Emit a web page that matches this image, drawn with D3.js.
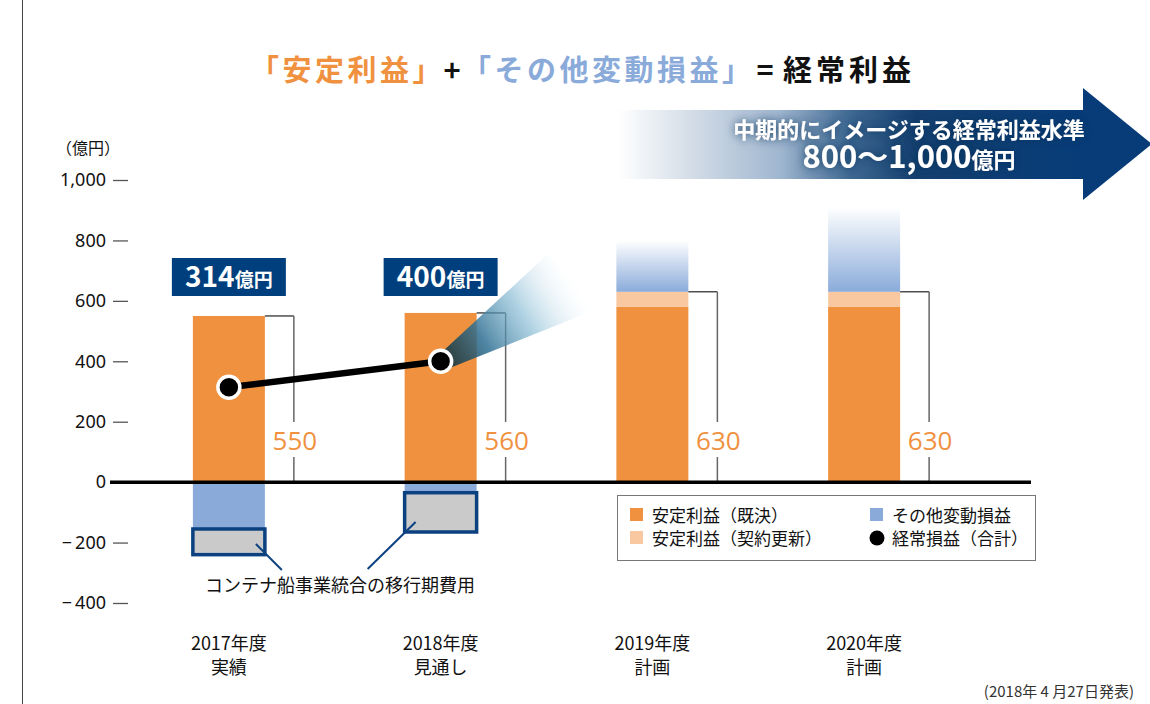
<!DOCTYPE html>
<html>
<head>
<meta charset="utf-8">
<script src="https://cdn.jsdelivr.net/npm/d3@7"></script>
<style>
  body { margin: 0; background: #fff; }
  svg { display: block; font-family: "Noto Sans CJK JP", "Noto Sans", sans-serif; }
</style>
</head>
<body>
<div id="chart"></div>
<script>
// data (億円)
const years = ['2017年度', '2018年度', '2019年度', '2020年度'];
const yearNotes = ['実績', '見通し', '計画', '計画'];
const stableDecided = [550, 560, 580, 580];
const stableRenewal = [0, 0, 50, 50];
const otherVariable = [-155, -35, 170, 280];
const transitionCost = [-85, -130, 0, 0];
const ordinaryProfit = [314, 400, null, null];
const yTicks = [1000, 800, 600, 400, 200, 0, -200, -400];

const W = 1150, H = 704;
const orange = '#f0913f', lightOrange = '#f9c8a0', blue = '#8aabda',
      gray = '#c9cac9', navy = '#0b4180';

const svg = d3.select('#chart').append('svg')
    .attr('width', W).attr('height', H);

const defs = svg.append('defs');

// gradient for planned "other" bars
const gBlue = defs.append('linearGradient').attr('id', 'blueFade')
    .attr('x1', 0).attr('y1', 1).attr('x2', 0).attr('y2', 0);
gBlue.append('stop').attr('offset', 0).attr('stop-color', blue);
gBlue.append('stop').attr('offset', 1).attr('stop-color', '#ffffff');

// banner gradient
const gBan = defs.append('linearGradient').attr('id', 'banner')
    .attr('gradientUnits', 'userSpaceOnUse')
    .attr('x1', 618).attr('y1', 0).attr('x2', 1083).attr('y2', 0);
[[0, '#ffffff'], [0.18, '#cdd8e4'], [0.35, '#9fb6cf'], [0.5, '#3d6892'],
 [0.64, '#14406f'], [1, '#073c78']].forEach(s =>
  gBan.append('stop').attr('offset', s[0]).attr('stop-color', s[1]));

const glow = defs.append('filter').attr('id', 'glow')
    .attr('x', '-20%').attr('y', '-40%').attr('width', '140%').attr('height', '180%');
glow.append('feGaussianBlur').attr('in', 'SourceAlpha').attr('stdDeviation', 5).attr('result', 'b');
glow.append('feFlood').attr('flood-color', '#0a2d58').attr('flood-opacity', 0.85);
glow.append('feComposite').attr('in2', 'b').attr('operator', 'in').attr('result', 's');
const gm = glow.append('feMerge');
gm.append('feMergeNode').attr('in', 's');
gm.append('feMergeNode').attr('in', 'SourceGraphic');

// scales
const x = d3.scaleBand().domain(years).range([123, 970])
    .paddingInner(0.66).paddingOuter(0.33);
const y = d3.scaleLinear().domain([-400, 1000]).range([603, 180]);
const bw = x.bandwidth();

// left border line
svg.append('line').attr('x1', 22.5).attr('x2', 22.5).attr('y1', 0).attr('y2', H)
    .attr('stroke', '#444').attr('stroke-width', 1);

// title, placed part by part
const tg = svg.append('g').attr('font-size', 29).attr('font-weight', 'bold');
tg.append('text').attr('x', 250).attr('y', 81).attr('letter-spacing', 3.5)
    .attr('fill', orange).text('「安定利益」');
tg.append('text').attr('x', 452).attr('y', 81).attr('text-anchor', 'middle')
    .attr('fill', '#111').text('+');
tg.append('text').attr('x', 462).attr('y', 81).attr('letter-spacing', 3.5)
    .attr('fill', blue).text('「その他変動損益」');
tg.append('text').attr('x', 765).attr('y', 81).attr('text-anchor', 'middle')
    .attr('fill', '#111').text('=');
tg.append('text').attr('x', 783).attr('y', 81).attr('letter-spacing', 4)
    .attr('fill', '#111').text('経常利益');

// banner arrow
svg.append('rect').attr('x', 618).attr('y', 110).attr('width', 466).attr('height', 69)
    .attr('fill', 'url(#banner)');
svg.append('polygon').attr('points', '1083,88 1152,144 1083,200').attr('fill', '#073c78');
const bt = svg.append('g').attr('filter', 'url(#glow)').attr('fill', '#fff')
    .attr('font-weight', 'bold').attr('text-anchor', 'middle');
bt.append('text').attr('x', 909).attr('y', 138).attr('font-size', 22)
    .text('中期的にイメージする経常利益水準');
const bt2 = bt.append('text').attr('x', 909).attr('y', 168);
bt2.append('tspan').attr('font-size', 31).text('800〜1,000');
bt2.append('tspan').attr('font-size', 22).text('億円');

// y axis
const yAxis = d3.axisLeft(y).tickValues(yTicks).tickSize(15).tickPadding(7)
    .tickFormat(d => d === 0 ? '0' : (d < 0 ? '\u2212\u2009' + d3.format(',')(-d) : d3.format(',')(d)));
const ya = svg.append('g').attr('transform', 'translate(128,0)').call(yAxis);
ya.select('.domain').remove();
ya.selectAll('.tick line').attr('stroke', '#555').attr('stroke-width', 1.3)
    .filter(d => d === 0).remove();
ya.selectAll('.tick text').attr('font-size', 18).attr('fill', '#111')
    .attr('font-family', '"Noto Sans", "Open Sans", sans-serif');
svg.append('text').attr('x', 56).attr('y', 154).attr('font-size', 16).attr('fill', '#111')
    .text('（億円）');

// bars
const bars = svg.append('g');
years.forEach((yr, i) => {
  const x0 = x(yr);
  const total = stableDecided[i] + stableRenewal[i];
  bars.append('rect').attr('x', x0).attr('width', bw)
      .attr('y', y(stableDecided[i])).attr('height', y(0) - y(stableDecided[i]))
      .attr('fill', orange);
  if (stableRenewal[i] > 0) {
    bars.append('rect').attr('x', x0).attr('width', bw)
        .attr('y', y(total)).attr('height', y(stableDecided[i]) - y(total))
        .attr('fill', lightOrange);
  }
  const ov = otherVariable[i];
  if (ov > 0) {
    bars.append('rect').attr('x', x0).attr('width', bw)
        .attr('y', y(total + ov)).attr('height', y(total) - y(total + ov))
        .attr('fill', 'url(#blueFade)');
  } else if (ov < 0) {
    bars.append('rect').attr('x', x0).attr('width', bw)
        .attr('y', y(0)).attr('height', y(ov) - y(0)).attr('fill', blue);
  }
  const tc = transitionCost[i];
  if (tc < 0) {
    bars.append('rect').attr('x', x0).attr('width', bw)
        .attr('y', y(ov)).attr('height', y(ov + tc) - y(ov))
        .attr('fill', gray).attr('stroke', navy).attr('stroke-width', 3.5);
  }

  // bracket with stable total label
  const bx = x0 + bw + 29;
  const ly = 450;
  const br = svg.append('g');
  br.append('line').attr('x1', x0 + bw).attr('x2', bx).attr('y1', y(total)).attr('y2', y(total))
      .attr('stroke', '#222').attr('stroke-width', 1.2);
  br.append('line').attr('x1', bx).attr('x2', bx).attr('y1', y(total)).attr('y2', ly - 28)
      .attr('stroke', '#666').attr('stroke-width', 1.5);
  br.append('line').attr('x1', bx).attr('x2', bx).attr('y1', ly + 7).attr('y2', y(0))
      .attr('stroke', '#666').attr('stroke-width', 1.5);
  br.append('text').attr('x', bx + 1).attr('y', ly).attr('text-anchor', 'middle')
      .attr('font-size', 26).attr('fill', orange)
      .attr('font-family', '"Open Sans", "Noto Sans", sans-serif')
      .text(total);
});

// zero line
svg.append('line').attr('x1', 110).attr('x2', 1031).attr('y1', y(0)).attr('y2', y(0))
    .attr('stroke', '#000').attr('stroke-width', 3.5);

// spotlight from the 2018 point
const cx = i => x(years[i]) + bw / 2;
const sx = cx(1), sy = y(ordinaryProfit[1]);
const gSpot = defs.append('linearGradient').attr('id', 'spot')
    .attr('gradientUnits', 'userSpaceOnUse')
    .attr('x1', sx).attr('y1', sy).attr('x2', sx + 135).attr('y2', sy - 80);
[[0, '#0c2a30', 0.88], [0.3, '#2f6f92', 0.85], [0.6, '#79b3cf', 0.6], [1, '#e8f3f8', 0]]
  .forEach(s => gSpot.append('stop').attr('offset', s[0])
    .attr('stop-color', s[1]).attr('stop-opacity', s[2]));
svg.append('polygon')
    .attr('points', `${sx},${sy - 8} ${sx + 107},${sy - 107} ${sx + 156},${sy - 52} ${sx + 6},${sy + 8}`)
    .attr('fill', 'url(#spot)');

// ordinary profit line
const pts = ordinaryProfit.map((v, i) => [v, i]).filter(d => d[0] !== null);
svg.append('path')
    .attr('d', d3.line().x(d => cx(d[1])).y(d => y(d[0]))(pts))
    .attr('stroke', '#000').attr('stroke-width', 6.5).attr('fill', 'none');
svg.selectAll('circle.pt').data(pts).join('circle').attr('class', 'pt')
    .attr('cx', d => cx(d[1])).attr('cy', d => y(d[0])).attr('r', 11)
    .attr('fill', '#000').attr('stroke', '#fff').attr('stroke-width', 3.5);

// value boxes
pts.forEach(d => {
  const c = cx(d[1]);
  svg.append('rect').attr('x', c - 57).attr('y', 258).attr('width', 114).attr('height', 38)
      .attr('fill', '#003f7d');
  const t = svg.append('text').attr('x', c).attr('y', 287).attr('text-anchor', 'middle')
      .attr('fill', '#fff').attr('font-weight', 'bold');
  t.append('tspan').attr('font-size', 28).text(d[0]);
  t.append('tspan').attr('font-size', 19).text('億円');
});

// annotation for transition costs
const ann = svg.append('g').attr('stroke', navy).attr('stroke-width', 2);
ann.append('line').attr('x1', cx(0) + 27).attr('y1', 544).attr('x2', cx(0) + 53).attr('y2', 570);
ann.append('line').attr('x1', cx(1) - 25).attr('y1', 522).attr('x2', cx(1) - 73).attr('y2', 569);
svg.append('text').attr('x', 205).attr('y', 592).attr('font-size', 18).attr('fill', '#111')
    .text('コンテナ船事業統合の移行期費用');

// x labels
const xl = svg.append('g').attr('text-anchor', 'middle').attr('font-size', 18).attr('fill', '#111');
years.forEach((yr, i) => {
  xl.append('text').attr('x', cx(i)).attr('y', 650).text(yr);
  xl.append('text').attr('x', cx(i)).attr('y', 674).text(yearNotes[i]);
});

// legend
const lg = svg.append('g');
lg.append('rect').attr('x', 617.5).attr('y', 495.5).attr('width', 418).attr('height', 65)
    .attr('fill', '#fff').attr('stroke', '#777').attr('stroke-width', 1);
const legendItems = [
  {label: '安定利益（既決）', color: orange, lx: 630, ly: 508},
  {label: '安定利益（契約更新）', color: lightOrange, lx: 630, ly: 531},
  {label: 'その他変動損益', color: blue, lx: 870, ly: 508},
  {label: '経常損益（合計）', color: '#000', lx: 870, ly: 531, dot: true}
];
legendItems.forEach(it => {
  if (it.dot) {
    lg.append('circle').attr('cx', it.lx + 7).attr('cy', it.ly + 7).attr('r', 7.5).attr('fill', it.color);
  } else {
    lg.append('rect').attr('x', it.lx).attr('y', it.ly).attr('width', 13).attr('height', 13)
        .attr('fill', it.color);
  }
  lg.append('text').attr('x', it.lx + 22).attr('y', it.ly + 14).attr('font-size', 17)
      .attr('fill', '#111').text(it.label);
});

// footnote
svg.append('text').attr('x', 1134).attr('y', 697).attr('text-anchor', 'end')
    .attr('font-size', 15).attr('fill', '#333').text('(2018年 4 月27日発表)');
</script>
</body>
</html>
